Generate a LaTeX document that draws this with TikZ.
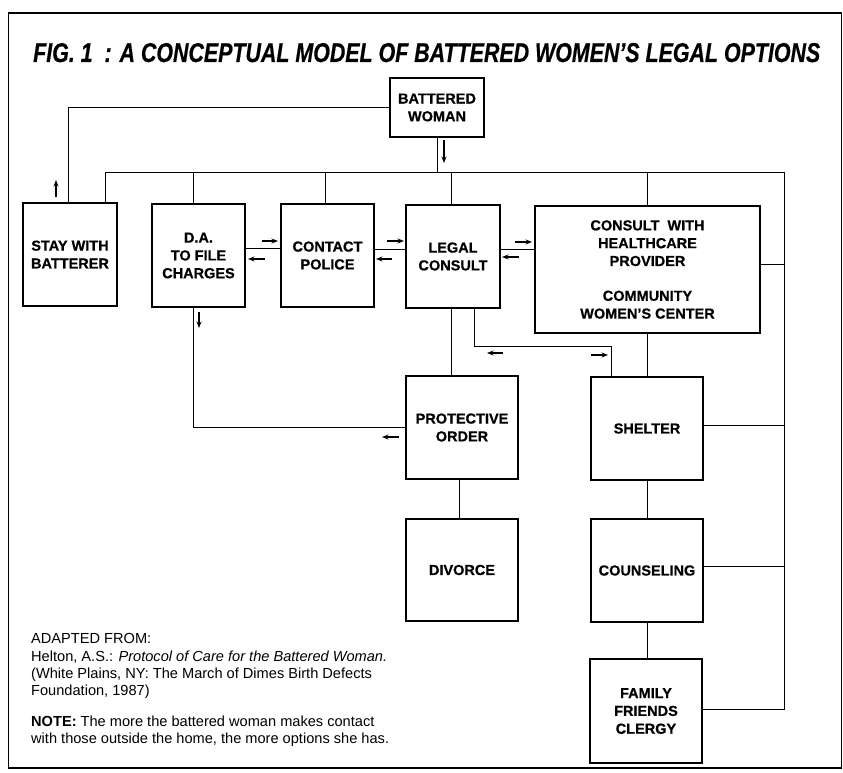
\documentclass[tikz,border=0pt]{standalone}
\usepackage{graphicx}
\usepackage{fontspec}
\setmainfont{Liberation Sans}
\newfontfamily\heavyfont[FakeBold=0.6,Ligatures=TeX]{Liberation Sans}
\usetikzlibrary{arrows.meta}
\begin{document}
\begin{tikzpicture}[x=1pt,y=-1pt,
  box/.style={draw, line width=1.2pt, inner sep=0pt, align=center,
    font=\fontsize{14.5}{17.8}\selectfont\heavyfont\bfseries},
  conn/.style={line width=1pt},
  marrow/.style={line width=1.1pt, -{Stealth[length=6.5pt,width=5pt]}}]
\useasboundingbox (0,0) rectangle (843,773);
% frame
\draw[line width=1.8pt] (8.5,13) rectangle (841.5,768);
% title
\node[anchor=base west, inner sep=0pt] (title) at (33,62)
  {\resizebox{787pt}{19pt}{\heavyfont\bfseries\itshape FIG. 1\ \ : A CONCEPTUAL MODEL OF BATTERED WOMEN’S LEGAL OPTIONS}};
% boxes
\node[box, minimum width=94pt, minimum height=59pt] (bw) at (437,107.5) {BATTERED\\WOMAN};
\node[box, minimum width=94pt, minimum height=103pt] (stay) at (70,254.5) {STAY WITH\\BATTERER};
\node[box, minimum width=93pt, minimum height=103pt] (da) at (198.5,255.5) {D.A.\\TO FILE\\CHARGES};
\node[box, minimum width=93pt, minimum height=103pt] (police) at (327.5,255.5) {CONTACT\\POLICE};
\node[box, minimum width=94pt, minimum height=103pt] (legal) at (453,256.5) {LEGAL\\CONSULT};
\node[box, minimum width=225pt, minimum height=127pt] (consult) at (647.5,269.5)
  {CONSULT\ \ WITH\\HEALTHCARE\\PROVIDER\\[17pt]COMMUNITY\\WOMEN’S CENTER};
\node[box, minimum width=112pt, minimum height=103pt] (prot) at (462,427.5) {PROTECTIVE\\ORDER};
\node[box, minimum width=112pt, minimum height=103pt] (shelter) at (647,428.5) {SHELTER};
\node[box, minimum width=112pt, minimum height=102pt] (divorce) at (462,570) {DIVORCE};
\node[box, minimum width=112pt, minimum height=103pt] (couns) at (647,570.5) {COUNSELING};
\node[box, minimum width=112pt, minimum height=104pt] (family) at (646,711) {FAMILY\\FRIENDS\\CLERGY};
% bus coordinates
\coordinate (busL) at (105,172);
\coordinate (busR) at (784,172);
% connectors
\draw[conn] (bw.west) -| ([xshift=-2pt]stay.north);
\draw[conn] (bw.south) -- (bw.south |- busL);
\draw[conn] ([xshift=35pt]stay.north) |- (busR);
\draw[conn] ([xshift=-5.5pt]da.north) -- ([xshift=-5.5pt]da.north |- busL);
\draw[conn] ([xshift=-2.5pt]police.north) -- ([xshift=-2.5pt]police.north |- busL);
\draw[conn] ([xshift=-2pt]legal.north) -- ([xshift=-2pt]legal.north |- busL);
\draw[conn] (consult.north) -- (consult.north |- busL);
\draw[conn] ([yshift=5.5pt]consult.east) -| (busR);
\draw[conn] ([yshift=3.5pt]shelter.east) -| (busR);
\draw[conn] ([yshift=4.5pt]couns.east) -| (busR);
\draw[conn] ([yshift=2pt]family.east) -| (busR);
\draw[conn] ([yshift=7.5pt]da.east) -- ([yshift=7.5pt]da.east -| police.west);
\draw[conn] ([yshift=6.5pt]police.east) -- ([yshift=6.5pt]police.east -| legal.west);
\draw[conn] ([yshift=7.5pt]legal.east) -- ([yshift=7.5pt]legal.east -| consult.west);
\draw[conn] ([xshift=-5.5pt]da.south) |- (prot.west);
\draw[conn] ([xshift=-2pt]legal.south) -- ([xshift=-2pt]legal.south |- prot.north);
\draw[conn] ([xshift=21pt]legal.south) -- ++(0,38) -| ([xshift=-36pt]shelter.north);
\draw[conn] (consult.south) -- (consult.south |- shelter.north);
\draw[conn] ([xshift=-3pt]prot.south) -- ([xshift=-3pt]prot.south |- divorce.north);
\draw[conn] (shelter.south) -- (shelter.south |- couns.north);
\draw[conn] (couns.south) -- (couns.south |- family.north);
% direction marks
\draw[marrow] (56,197) -- (56,180);
\draw[marrow] (444,140) -- (444,163);
\draw[marrow] (262,241) -- (278,241);
\draw[marrow] (265,259) -- (248,259);
\draw[marrow] (387,241) -- (404,241);
\draw[marrow] (392,259) -- (376,259);
\draw[marrow] (515,242) -- (532,242);
\draw[marrow] (519,257) -- (502,257);
\draw[marrow] (199,312) -- (199,328);
\draw[marrow] (399,437) -- (382,437);
\draw[marrow] (503,353) -- (487,353);
\draw[marrow] (591,355) -- (608,355);
% source note
\node[anchor=north west, inner sep=0pt, align=left,
  font=\fontsize{14.6}{17.3}\selectfont] (note) at (31,633.5)
  {ADAPTED FROM:\\
   Helton, A.S.: \textit{Protocol of Care for the Battered Woman.}\\
   (White Plains, NY: The March of Dimes Birth Defects\\
   Foundation, 1987)\\[13.5pt]
   \textbf{NOTE:} The more the battered woman makes contact\\
   with those outside the home, the more options she has.};
\end{tikzpicture}
\end{document}
